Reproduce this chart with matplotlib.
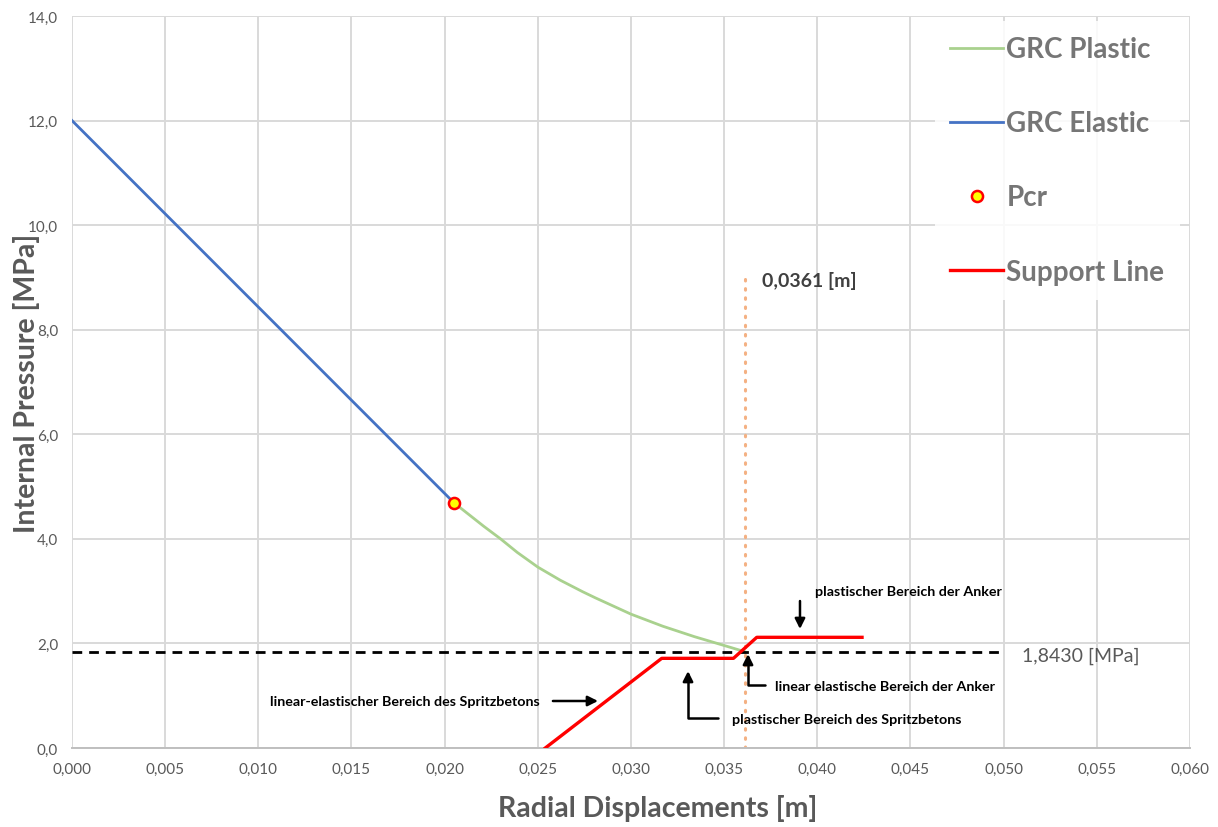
import matplotlib
matplotlib.use("Agg")
import matplotlib.pyplot as plt
from matplotlib.ticker import FuncFormatter

plt.rcParams['font.family'] = ['Lato', 'DejaVu Sans']

# ---- data ----
elastic_x = [0.0, 0.0205]
elastic_y = [12.0, 4.69]

plastic_x = [0.0205, 0.0221, 0.0230, 0.0239, 0.0250, 0.0262, 0.0274, 0.0281,
             0.0300, 0.0317, 0.0334, 0.0351, 0.0361]
plastic_y = [4.69, 4.24, 4.00, 3.74, 3.46, 3.21, 2.99, 2.87,
             2.56, 2.33, 2.13, 1.95, 1.843]

pcr_x = [0.0205]
pcr_y = [4.69]

support_x = [0.0254, 0.03165, 0.0355, 0.03675, 0.0424]
support_y = [0.0, 1.715, 1.715, 2.117, 2.117]

p_equilibrium = 1.843
u_equilibrium = 0.0361
p_line_end = 0.050
u_line_top = 9.0

x_ticks = [i * 0.005 for i in range(13)]
y_ticks = [0, 2, 4, 6, 8, 10, 12, 14]

label_plastic = "GRC Plastic"
label_elastic = "GRC Elastic"
label_pcr = "Pcr"
label_support = "Support Line"

# ---- figure ----
fig = plt.figure(figsize=(12.18, 8.28), dpi=100)
ax = fig.add_axes([0.0591, 0.0954, 0.9179, 0.8841])

grid_c = '#d9d9d9'
ax.set_xlim(0, 0.060)
ax.set_ylim(0, 14)
ax.set_xticks(x_ticks)
ax.set_yticks(y_ticks)
ax.grid(True, color=grid_c, linewidth=1.4, zorder=0)
for s in ['top', 'right', 'left']:
    ax.spines[s].set_visible(False)
ax.spines['bottom'].set_color('#bfbfbf')
ax.spines['bottom'].set_linewidth(1.4)
ax.tick_params(length=0, colors='#595959', labelsize=11, pad=10)
ax.xaxis.set_major_formatter(FuncFormatter(lambda v, p: f"{v:.3f}".replace('.', ',')))
ax.yaxis.set_major_formatter(FuncFormatter(lambda v, p: f"{v:.1f}".replace('.', ',')))

l_pl, = ax.plot(plastic_x, plastic_y, color='#a9d18e', lw=2.0, zorder=3, label=label_plastic,
                solid_joinstyle='round')
l_el, = ax.plot(elastic_x, elastic_y, color='#4472c4', lw=2.0, zorder=3, label=label_elastic)
l_pcr, = ax.plot(pcr_x, pcr_y, linestyle='none', marker='o', markersize=8,
                 markerfacecolor='#ffff00', markeredgecolor='#ff0000', markeredgewidth=1.8,
                 zorder=5, label=label_pcr)
l_sup, = ax.plot(support_x, support_y, color='#ff0000', lw=2.4, zorder=4, label=label_support)

ax.plot([0, p_line_end], [p_equilibrium, p_equilibrium], color='black', lw=2.0,
        linestyle=(0, (3.5, 2.5)), zorder=3)
ax.plot([u_equilibrium, u_equilibrium], [0, u_line_top], color='#f4b183', lw=2.2,
        linestyle=(0, (0.5, 2.5)), dash_capstyle='round', zorder=2)

ax.set_xlabel("Radial Displacements [m]", fontsize=20.5, fontweight='bold', color='#595959')
ax.xaxis.set_label_coords(0.524, -0.063)
ax.set_ylabel("Internal Pressure [MPa]", fontsize=20.5, fontweight='bold', color='#595959')
ax.yaxis.set_label_coords(-0.029, 0.50)

# value labels
ax.text(0.03703, 8.95, "0,0361 [m]", fontsize=14, fontweight='bold', color='#404040',
        ha='left', va='center')
ax.text(0.05098, 1.78, "1,8430 [MPa]", fontsize=14, color='#595959', ha='left', va='center')

ann = dict(fontsize=10.3, fontweight='bold', color='black')
ap = dict(arrowstyle='-|>,head_length=0.6,head_width=0.3', color='black', lw=1.8,
          shrinkA=0, shrinkB=0)

# linear-elastischer Bereich des Spritzbetons
ax.text(0.02512, 0.899, "linear-elastischer Bereich des Spritzbetons", ha='right', va='center', **ann)
ax.annotate("", xy=(0.02823, 0.899), xytext=(0.02581, 0.899), arrowprops=ap)

# plastischer Bereich des Spritzbetons
ax.text(0.03542, 0.555, "plastischer Bereich des Spritzbetons", ha='left', va='center', **ann)
ax.annotate("", xy=(0.03306, 1.473), xytext=(0.03467, 0.574),
            arrowprops=dict(ap, connectionstyle='angle,angleA=0,angleB=90,rad=0'))

# linear elastische Bereich der Anker
ax.text(0.03773, 1.186, "linear elastische Bereich der Anker", ha='left', va='center', **ann)
ax.annotate("", xy=(0.03628, 1.798), xytext=(0.03719, 1.205),
            arrowprops=dict(ap, connectionstyle='angle,angleA=0,angleB=90,rad=0'))

# plastischer Bereich der Anker
ax.text(0.04487, 3.0, "plastischer Bereich der Anker", ha='center', va='center', **ann)
ax.annotate("", xy=(0.03907, 2.276), xytext=(0.03907, 2.811), arrowprops=ap)

leg = ax.legend(handles=[l_pl, l_el, l_pcr, l_sup], loc='upper left',
                bbox_to_anchor=(0.772, 0.993), frameon=True, fancybox=False,
                prop={'weight': 'bold', 'size': 20}, labelcolor='#767676',
                labelspacing=1.73, handlelength=1.9, handletextpad=0.12,
                borderpad=0.55, borderaxespad=0)
leg.get_frame().set_facecolor('white')
leg.get_frame().set_alpha(0.85)
leg.get_frame().set_edgecolor('none')

fig.savefig("out.png", dpi=100)
